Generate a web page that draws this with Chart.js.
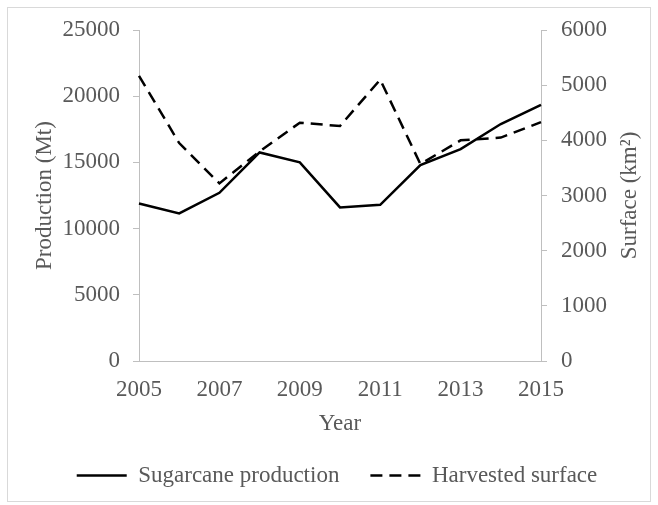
<!DOCTYPE html>
<html>
<head>
<meta charset="utf-8">
<script src="https://cdn.jsdelivr.net/npm/chart.js@4.4.1/dist/chart.umd.min.js"></script>
<style>
  html, body { margin: 0; padding: 0; background: #fff; }
  #wrap { width: 658px; height: 505px; position: relative; }
</style>
</head>
<body>
<div id="wrap"><canvas id="mycanvas"></canvas></div>
<script>
// data
const years = ["2005", "2006", "2007", "2008", "2009", "2010", "2011", "2012", "2013", "2014", "2015"];
const production = [11900, 11150, 12700, 15750, 15000, 11600, 11800, 14800, 16000, 17900, 19350]; // Mt
const surface = [5170, 3950, 3220, 3800, 4320, 4260, 5100, 3570, 4000, 4050, 4330];            // km2
const prodTicks = [0, 5000, 10000, 15000, 20000, 25000];
const surfTicks = [0, 1000, 2000, 3000, 4000, 5000, 6000];
const rightTitle = "Surface (km\u00B2)";

const grey = '#595959';
const axisGrey = '#bfbfbf';
const fs = 23;

Chart.defaults.font.family = "'Liberation Serif', 'Times New Roman', serif";
Chart.defaults.font.size = fs;
Chart.defaults.color = grey;

// frame around the figure + right axis title (reads bottom to top)
const extras = {
  id: 'extras',
  beforeDraw(chart) {
    const c = chart.ctx;
    c.save();
    c.fillStyle = '#fff';
    c.fillRect(0, 0, chart.width, chart.height);
    c.strokeStyle = '#d9d9d9';
    c.lineWidth = 1;
    c.strokeRect(7.5, 7.5, 643, 494);
    c.restore();
  },
  afterDraw(chart) {
    const c = chart.ctx;
    const a = chart.chartArea;
    c.save();
    c.translate(630, (a.top + a.bottom) / 2);
    c.rotate(-Math.PI / 2);
    c.textAlign = 'center';
    c.textBaseline = 'middle';
    c.fillStyle = grey;
    c.font = fs + "px 'Liberation Serif'";
    c.fillText(rightTitle, 0, 0);
    c.restore();
  }
};

const ctx = document.getElementById('mycanvas').getContext('2d');
new Chart(ctx, {
  type: 'line',
  data: {
    labels: years,
    datasets: [
      {
        label: 'Sugarcane production',
        data: production,
        borderColor: '#000',
        backgroundColor: '#000',
        borderWidth: 2.5,
        pointRadius: 0,
        tension: 0,
        yAxisID: 'y'
      },
      {
        label: 'Harvested surface',
        data: surface,
        borderColor: '#000',
        backgroundColor: '#000',
        borderWidth: 2.5,
        borderDash: [12, 7],
        pointRadius: 0,
        tension: 0,
        yAxisID: 'y2'
      }
    ]
  },
  options: {
    responsive: true,
    maintainAspectRatio: false,
    animation: false,
    layout: { padding: { left: 16, right: 0, top: 30, bottom: 8 } },
    plugins: {
      tooltip: { enabled: false },
      legend: {
        position: 'bottom',
        labels: {
          usePointStyle: true,
          pointStyle: 'line',
          pointStyleWidth: 50,
          boxHeight: fs,
          padding: 31,
          color: grey,
          // point-style labels take the point's style, so put the line dash back
          generateLabels: (chart) => {
            const items = Chart.defaults.plugins.legend.labels.generateLabels(chart);
            items.forEach((it) => {
              const ds = chart.data.datasets[it.datasetIndex];
              it.lineDash = ds.borderDash || [];
              it.lineWidth = ds.borderWidth;
              it.strokeStyle = ds.borderColor;
            });
            return items;
          }
        }
      }
    },
    scales: {
      x: {
        grid: { display: false, drawTicks: false },
        border: { color: axisGrey, width: 1 },
        ticks: {
          autoSkip: false,
          maxRotation: 0,
          padding: 15,
          callback: (v, i) => (i % 2 === 0 ? years[i] : '')
        },
        title: { display: true, text: 'Year', padding: { top: 0, bottom: -5 } },
        afterFit: (s) => { s.height = 72; }
      },
      y: {
        position: 'left',
        min: 0,
        max: 25000,
        grid: { drawOnChartArea: false, tickLength: 6, color: axisGrey },
        border: { color: axisGrey, width: 1 },
        afterBuildTicks: (s) => { s.ticks = prodTicks.map(v => ({ value: v })); },
        ticks: { padding: 13, callback: (v) => String(v) },
        title: { display: true, text: 'Production (Mt)', padding: { top: 15, bottom: 0 } },
        afterFit: (s) => { s.width = 123; }
      },
      y2: {
        position: 'right',
        min: 0,
        max: 6000,
        grid: { drawOnChartArea: false, tickLength: 6, color: axisGrey },
        border: { color: axisGrey, width: 1 },
        afterBuildTicks: (s) => { s.ticks = surfTicks.map(v => ({ value: v })); },
        ticks: { padding: 14, callback: (v) => String(v) },
        afterFit: (s) => { s.width = 117; }
      }
    }
  },
  plugins: [extras]
});
</script>
</body>
</html>
